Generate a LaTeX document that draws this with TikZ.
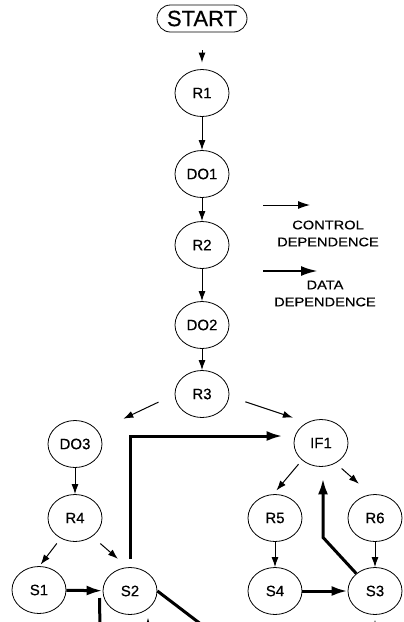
\documentclass[tikz,border=0pt]{standalone}
\usepackage{fontspec}
\setmainfont[FakeBold=0.5]{Liberation Sans}
\newfontfamily\legendfont[FakeStretch=1.17,FakeBold=0.5]{Liberation Sans}
\usetikzlibrary{shapes.geometric,shapes.misc,arrows.meta,calc}
\begin{document}
\begin{tikzpicture}[x=1pt,y=-1pt,
  nd/.style={ellipse,draw,line width=0.8pt,minimum width=54pt,minimum height=47pt,inner sep=0pt,font=\fontsize{15}{15}\selectfont},
  ctrl/.style={line width=1pt,-{Latex[length=10pt,width=7pt]}},
  data/.style={line width=3pt,-{Latex[length=16pt,width=10pt]}},
  dline/.style={line width=3pt},
  lg/.style={font=\legendfont\fontsize{12.5}{17}\selectfont,align=center,inner sep=0pt}]
\clip (0,0) rectangle (404,622);
% nodes
\node[rounded rectangle,draw,line width=0.8pt,minimum width=90pt,minimum height=27pt,inner sep=0pt,font=\fontsize{22}{22}\selectfont] (start) at (202,18.5) {START};
\node[nd] (R1)  at (202,93)  {R1};
\node[nd] (DO1) at (202,174) {DO1};
\node[nd] (R2)  at (202,245) {R2};
\node[nd] (DO2) at (202,325) {DO2};
\node[nd] (R3)  at (202,394) {R3};
\node[nd] (DO3) at (75,444)  {DO3};
\node[nd] (R4)  at (75,518)  {R4};
\node[nd] (S1)  at (39,590)  {S1};
\node[nd] (S2)  at (130,591) {S2};
\node[nd] (IF1) at (321,443) {IF1};
\node[nd] (R5)  at (275,518) {R5};
\node[nd] (R6)  at (375,518) {R6};
\node[nd] (S4)  at (275,591) {S4};
\node[nd] (S3)  at (375,591) {S3};
% legend
\coordinate (lc1) at (263,205);
\coordinate (lc2) at (310,205);
\coordinate (ld1) at (263,271);
\coordinate (ld2) at (318,271);
\draw[ctrl,-{Latex[length=12pt,width=8pt]}] (lc1) -- (lc2);
\draw[data,line width=2.6pt,-{Latex[length=17pt,width=10pt]}] (ld1) -- (ld2);
\node[lg] (lgc) at (328,233.5) {CONTROL\\DEPENDENCE};
\node[lg] (lgd) at (325,293.5) {DATA\\DEPENDENCE};
% control dependences
\draw[ctrl,shorten <=18pt,shorten >=6.5pt] (start.south) -- (R1.north);
\draw[ctrl] (R1) -- (DO1);
\draw[ctrl] (DO1) -- (R2);
\draw[ctrl] (R2) -- (DO2);
\draw[ctrl] (DO2) -- (R3);
\draw[ctrl,shorten <=17.8pt,shorten >=28.2pt] (R3.181) -- (DO3.30);
\draw[ctrl,shorten <=17pt,shorten >=15pt] (R3.-5.5) -- (IF1.124);
\draw[ctrl] (DO3) -- (R4);
\draw[ctrl,shorten <=6.4pt,shorten >=2pt] (R4.235) -- (S1.89);
\draw[ctrl,shorten <=10.6pt,shorten >=12.7pt] (R4.-47) -- (S2.96);
\draw[ctrl,shorten <=5.3pt,shorten >=4.8pt] (IF1.222) -- (R5.94);
\draw[ctrl,shorten <=8pt,shorten >=16pt] (IF1.-54) -- (R6.100);
\draw[ctrl] (R5) -- (S4);
\draw[ctrl] (R6) -- (S3);
% data dependences
\draw[data] (S1) -- (S2);
\draw[data] (S4) -- (S3);
\draw[data] ($(S2.north)+(0,-8)$) |- ($(IF1.west)+(-11,-7)$);
\draw[data] (S3.137) -- ($(IF1.south)+(2,70.5)$) -- ($(IF1.south)+(2,11.5)$);
\coordinate (o1) at (227,644);
\draw[dline] (S2.east) -- (o1);
\coordinate (o2) at (100,640);
\draw[dline] ($(S2.west)+(-3,7)$) -- (o2);
\draw[data] ($(S2.south)+(18,25.5)$) -- ($(S2.south)+(18,1.5)$);
\draw[data] ($(S3.south)+(0,25)$) -- ($(S3.south)+(0,3.5)$);
\end{tikzpicture}
\end{document}
